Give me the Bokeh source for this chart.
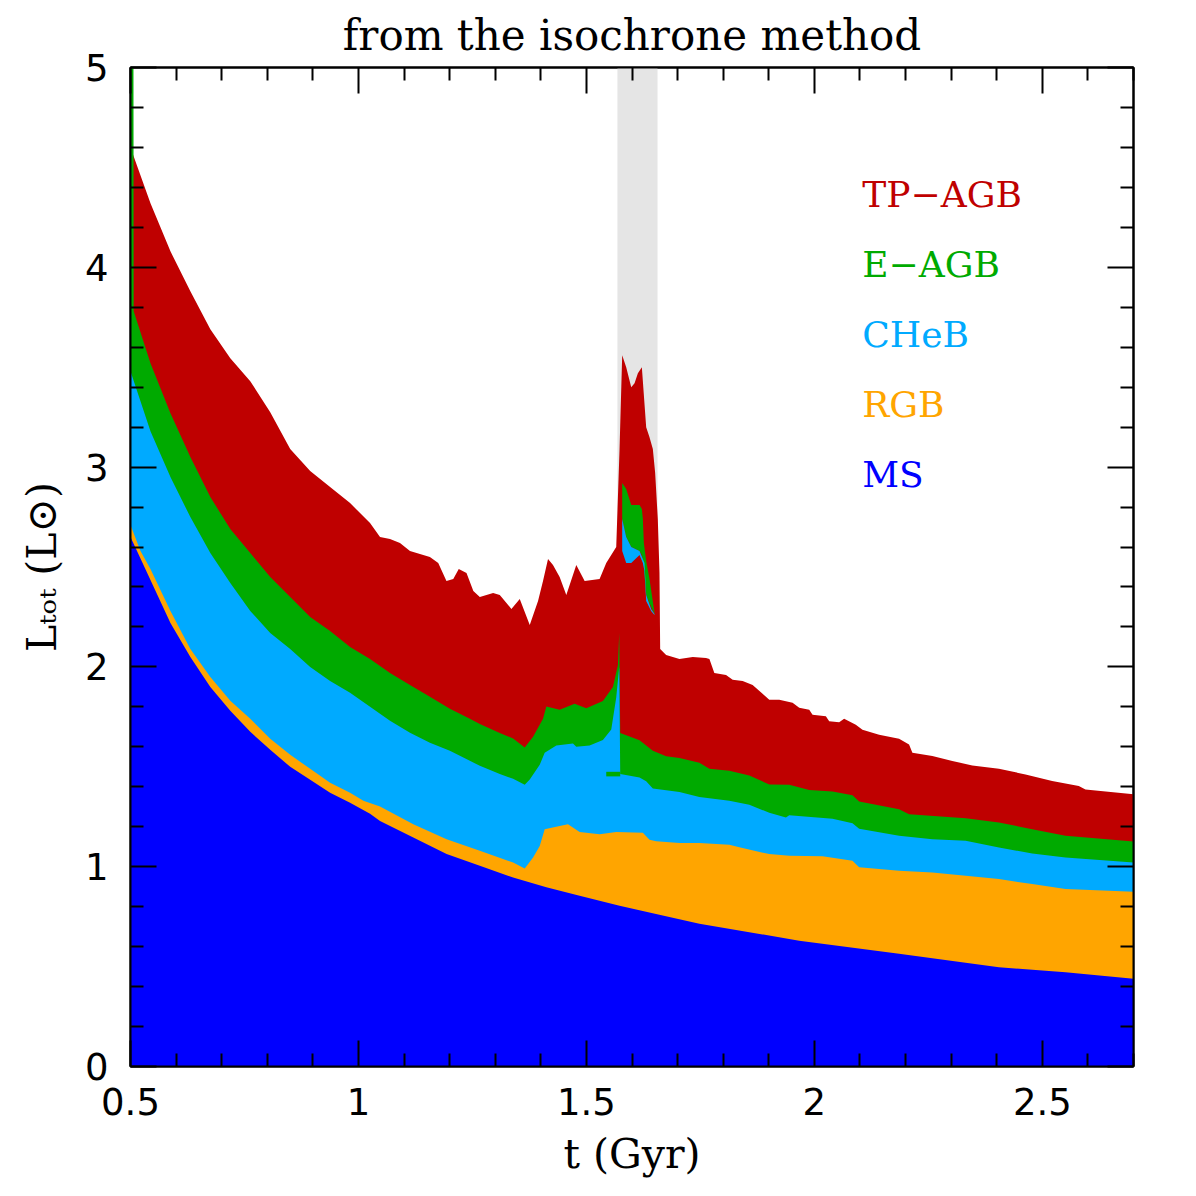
from bokeh.plotting import figure
from bokeh.models import Range1d, FixedTicker, LinearAxis, CustomJSTickFormatter
from bokeh.core.properties import value
from bokeh.embed import file_html
from bokeh.resources import INLINE

# ---------------- data ----------------
# cumulative luminosity (L_sun) up to and including each phase, vs age t (Gyr)
t_total = [0.5, 0.5438, 0.5876, 0.6313, 0.6751, 0.7189, 0.7627, 0.8065, 0.8503, 0.8941,
           0.9378, 0.9816, 1.0254, 1.0473, 1.0692, 1.0911, 1.1130, 1.1567, 1.1750, 1.1930,
           1.2080, 1.2200, 1.2370, 1.2520, 1.2662, 1.2954, 1.3100, 1.3355, 1.3538, 1.3757,
           1.3939, 1.4048, 1.4158, 1.4267, 1.4413, 1.4559, 1.4778, 1.4961, 1.5289, 1.5435,
           1.5654, 1.5727, 1.5785, 1.5873, 1.5983, 1.6056, 1.6129, 1.6216, 1.6311, 1.6384,
           1.6457, 1.6508, 1.6566, 1.6603, 1.6618, 1.6749, 1.7041, 1.7333, 1.7624, 1.7698,
           1.7806, 1.8062, 1.8208, 1.8427, 1.8646, 1.9011, 1.9230, 1.9522, 1.9668, 1.9887,
           1.9960, 2.0252, 2.0325, 2.0544, 2.0653, 2.0909, 2.1055, 2.1420, 2.1858, 2.2077,
           2.2150, 2.2588, 2.3026, 2.3464, 2.4048, 2.4632, 2.5216, 2.5800, 2.5946, 2.7]
L_total = [4.60, 4.32, 4.08, 3.88, 3.69, 3.545, 3.43, 3.275, 3.09, 2.98,
           2.90, 2.82, 2.72, 2.65, 2.64, 2.62, 2.58, 2.55, 2.52, 2.43,
           2.44, 2.49, 2.47, 2.38, 2.35, 2.37, 2.36, 2.29, 2.34, 2.21,
           2.33, 2.43, 2.54, 2.51, 2.45, 2.36, 2.51, 2.43, 2.44, 2.52,
           2.60, 3.09, 3.56, 3.50, 3.40, 3.42, 3.47, 3.50, 3.20, 3.15,
           3.09, 2.97, 2.74, 2.47, 2.09, 2.06, 2.04, 2.05, 2.044, 2.04,
           1.969, 1.96, 1.936, 1.93, 1.91, 1.836, 1.836, 1.82, 1.795, 1.786,
           1.761, 1.753, 1.728, 1.723, 1.74, 1.711, 1.686, 1.661, 1.64, 1.611,
           1.57, 1.554, 1.529, 1.507, 1.49, 1.462, 1.429, 1.404, 1.387, 1.362]

t_eagb = [0.5, 0.5065, 0.5070, 0.5438, 0.5876, 0.6313, 0.6751, 0.7189, 0.7627, 0.8065,
          0.8503, 0.8941, 0.9378, 0.9816, 1.0254, 1.0692, 1.1130, 1.1567, 1.2005, 1.2443,
          1.2662, 1.3100, 1.3392, 1.3647, 1.3830, 1.4048, 1.4121, 1.4413, 1.4742, 1.4997,
          1.5362, 1.5581, 1.5691, 1.5720, 1.5742, 1.6165, 1.6457, 1.6749, 1.7041, 1.7478,
          1.7697, 1.8134, 1.8573, 1.9011, 1.9449, 1.9887, 2.0398, 2.0836, 2.0982, 2.1858,
          2.2077, 2.3318, 2.4048, 2.4778, 2.5508, 2.7]
L_eagb = [5.0, 5.0, 3.78, 3.52, 3.27, 3.05, 2.85, 2.69, 2.57, 2.45,
          2.35, 2.25, 2.18, 2.10, 2.04, 1.97, 1.91, 1.85, 1.79, 1.74,
          1.714, 1.669, 1.642, 1.597, 1.651, 1.740, 1.802, 1.785, 1.815, 1.793,
          1.829, 1.900, 2.008, 2.17, 1.669, 1.633, 1.580, 1.553, 1.544, 1.520,
          1.49, 1.48, 1.456, 1.412, 1.41, 1.384, 1.376, 1.357, 1.326, 1.288,
          1.263, 1.243, 1.221, 1.188, 1.155, 1.126]

t_cheb = [0.5, 0.5438, 0.5876, 0.6313, 0.6751, 0.7189, 0.7627, 0.8065, 0.8503, 0.8941,
          0.9378, 0.9816, 1.0254, 1.0692, 1.1130, 1.1567, 1.2005, 1.2443, 1.2662, 1.3100,
          1.3392, 1.3647, 1.3757, 1.3976, 1.4085, 1.4340, 1.4705, 1.4778, 1.5070, 1.5362,
          1.5545, 1.5654, 1.5720, 1.5742, 1.6165, 1.6311, 1.6457, 1.6749, 1.7041, 1.7478,
          1.8134, 1.8573, 1.9011, 1.9376, 1.9449, 2.0398, 2.0836, 2.0982, 2.1858, 2.2588,
          2.3318, 2.4048, 2.4778, 2.5508, 2.7]
L_cheb = [3.48, 3.18, 2.95, 2.75, 2.57, 2.42, 2.28, 2.17, 2.09, 2.00,
          1.93, 1.87, 1.80, 1.73, 1.67, 1.62, 1.58, 1.53, 1.505, 1.464,
          1.44, 1.41, 1.436, 1.51, 1.57, 1.607, 1.616, 1.60, 1.607, 1.634,
          1.687, 1.847, 2.00, 1.464, 1.446, 1.428, 1.392, 1.383, 1.374, 1.349,
          1.33, 1.31, 1.27, 1.246, 1.257, 1.24, 1.217, 1.19, 1.155, 1.138,
          1.13, 1.096, 1.066, 1.046, 1.021]

t_rgb = [0.5, 0.5219, 0.5438, 0.5876, 0.6313, 0.6751, 0.7189, 0.7627, 0.8065, 0.8503,
         0.8941, 0.9378, 0.9816, 1.0108, 1.0473, 1.1203, 1.1933, 1.2662, 1.3392, 1.3647,
         1.3830, 1.3976, 1.4085, 1.4413, 1.4596, 1.4851, 1.5289, 1.5654, 1.6238, 1.6384,
         1.6530, 1.7041, 1.7478, 1.8134, 1.8354, 1.9011, 1.9449, 2.0179, 2.0836, 2.0982,
         2.1858, 2.2588, 2.3318, 2.4048, 2.4778, 2.5508, 2.7]
L_rgb = [2.71, 2.58, 2.49, 2.28, 2.09, 1.95, 1.83, 1.74, 1.64, 1.56,
         1.49, 1.42, 1.37, 1.33, 1.301, 1.213, 1.138, 1.08, 1.021, 0.991,
         1.046, 1.104, 1.188, 1.204, 1.213, 1.174, 1.163, 1.174, 1.17, 1.135,
         1.127, 1.118, 1.118, 1.11, 1.097, 1.063, 1.055, 1.052, 1.03, 0.997,
         0.98, 0.971, 0.955, 0.938, 0.913, 0.889, 0.875]

t_ms = [0.5, 0.5438, 0.5876, 0.6313, 0.6751, 0.7189, 0.7627, 0.8065, 0.8503, 0.8941,
        0.9378, 0.9816, 1.0254, 1.0473, 1.1203, 1.1933, 1.2662, 1.3392, 1.4121, 1.4851,
        1.5727, 1.6600, 1.7478, 1.9668, 2.1858, 2.4048, 2.5508, 2.7]
L_ms = [2.65, 2.435, 2.22, 2.05, 1.90, 1.78, 1.675, 1.585, 1.50, 1.435,
        1.37, 1.32, 1.265, 1.229, 1.146, 1.063, 1.005, 0.946, 0.897, 0.855,
        0.805, 0.76, 0.714, 0.630, 0.564, 0.497, 0.472, 0.439]

# detached E-AGB / CHeB contributions inside the shaded interval
band_eagb_t = [1.5785, 1.5873, 1.5983, 1.6165, 1.6216, 1.6238, 1.6260, 1.6311, 1.6384, 1.6493]
band_eagb_hi = [2.92, 2.89, 2.81, 2.81, 2.79, 2.74, 2.62, 2.53, 2.44, 2.27]
band_eagb_lo = [2.74, 2.65, 2.60, 2.58, 2.56, 2.54, 2.50, 2.36, 2.32, 2.265]
band_cheb_t = [1.5785, 1.5873, 1.5983, 1.6165, 1.6238, 1.6274, 1.6311, 1.6420, 1.6493]
band_cheb_hi = [2.74, 2.65, 2.60, 2.58, 2.54, 2.52, 2.36, 2.29, 2.265]
band_cheb_lo = [2.58, 2.52, 2.52, 2.56, 2.52, 2.48, 2.33, 2.28, 2.26]
blip_eagb_t = [1.5435, 1.5742]
blip_eagb_hi = [1.475, 1.475]
blip_eagb_lo = [1.452, 1.452]

# shaded age interval (Gyr)
shade_t = [1.568, 1.656]

title_text = "from the isochrone method"
phases = ["TP\u2212AGB", "E\u2212AGB", "CHeB", "RGB", "MS"]
colors = ["#bf0000", "#00aa00", "#00aaff", "#ffa500", "#0000ff"]

x_major = [0.5, 1.0, 1.5, 2.0, 2.5]
x_minor = [0.6, 0.7, 0.8, 0.9, 1.1, 1.2, 1.3, 1.4, 1.6, 1.7, 1.8, 1.9,
           2.1, 2.2, 2.3, 2.4, 2.6, 2.7]
y_major = [0, 1, 2, 3, 4, 5]
y_minor = [0.2, 0.4, 0.6, 0.8, 1.2, 1.4, 1.6, 1.8, 2.2, 2.4, 2.6, 2.8,
           3.2, 3.4, 3.6, 3.8, 4.2, 4.4, 4.6, 4.8]

# ---------------- figure ----------------
p = figure(width=1180, height=1180, x_range=Range1d(0.5, 2.7), y_range=Range1d(0, 5),
           output_backend="svg", toolbar_location=None,
           min_border_left=130, min_border_right=47, min_border_top=66, min_border_bottom=112,
           title=title_text)
p.background_fill_color = "white"
p.border_fill_color = "white"
p.xgrid.visible = False
p.ygrid.visible = False
p.outline_line_color = "black"
p.outline_line_width = 2

p.title.text_font = "DejaVu Serif"
p.title.text_font_size = "42px"
p.title.text_font_style = "normal"
p.title.text_color = "black"
p.title.align = "center"
p.title.standoff = 16

# shaded interval
p.varea(x=shade_t, y1=[0, 0], y2=[5, 5], fill_color="#e5e5e5")

# cumulative areas, painted from the top phase down
layers = [(t_total, L_total), (t_eagb, L_eagb), (t_cheb, L_cheb), (t_rgb, L_rgb), (t_ms, L_ms)]
for (tt, ll), c in zip(layers, colors):
    p.varea(x=tt, y1=[0] * len(tt), y2=ll, fill_color=c)

p.varea(x=band_eagb_t, y1=band_eagb_lo, y2=band_eagb_hi, fill_color=colors[1])
p.varea(x=band_cheb_t, y1=band_cheb_lo, y2=band_cheb_hi, fill_color=colors[2])
p.varea(x=blip_eagb_t, y1=blip_eagb_lo, y2=blip_eagb_hi, fill_color=colors[1])

# phase labels
lab_x = 2.105
lab_y0 = 4.366
lab_dy = 0.351
p.text(x=[lab_x] * len(phases), y=[lab_y0 - i * lab_dy for i in range(len(phases))],
       text=phases, text_color=colors, text_font=value("DejaVu Serif"),
       text_font_size=value("36px"), text_align="left", text_baseline="alphabetic")

# ---------------- axes ----------------
fmt = CustomJSTickFormatter(code="return String(Math.round(tick*10)/10);")
blank = CustomJSTickFormatter(code="return '';")


def style(ax, major, minor, labels):
    ax.ticker = FixedTicker(ticks=major, minor_ticks=minor)
    ax.major_tick_in = 26
    ax.major_tick_out = 0
    ax.minor_tick_in = 13
    ax.minor_tick_out = 0
    ax.major_tick_line_width = 2
    ax.minor_tick_line_width = 2
    ax.axis_line_width = 2
    ax.major_tick_line_color = "black"
    ax.minor_tick_line_color = "black"
    ax.axis_line_color = "black"
    if labels:
        ax.formatter = fmt
        ax.major_label_text_font = "DejaVu Sans"
        ax.major_label_text_font_size = "37px"
        ax.major_label_text_color = "black"
        ax.axis_label_text_font = "DejaVu Serif"
        ax.axis_label_text_font_size = "41px"
        ax.axis_label_text_font_style = "normal"
        ax.axis_label_text_color = "black"
    else:
        ax.formatter = blank
        ax.major_label_text_font_size = "0px"
        ax.major_label_standoff = 0


xb = p.xaxis[0]
yl = p.yaxis[0]
style(xb, x_major, x_minor, True)
style(yl, y_major, y_minor, True)
xb.axis_label = "t (Gyr)"
yl.axis_label = "L\u209c\u2092\u209c (L\u2299)"
xb.major_label_standoff = 21
xb.axis_label_standoff = 12
yl.major_label_standoff = 22
yl.axis_label_standoff = 16

xt = LinearAxis()
style(xt, x_major, x_minor, False)
p.add_layout(xt, "above")
yr = LinearAxis()
style(yr, y_major, y_minor, False)
p.add_layout(yr, "right")

open("out.html", "w").write(file_html(p, INLINE))
